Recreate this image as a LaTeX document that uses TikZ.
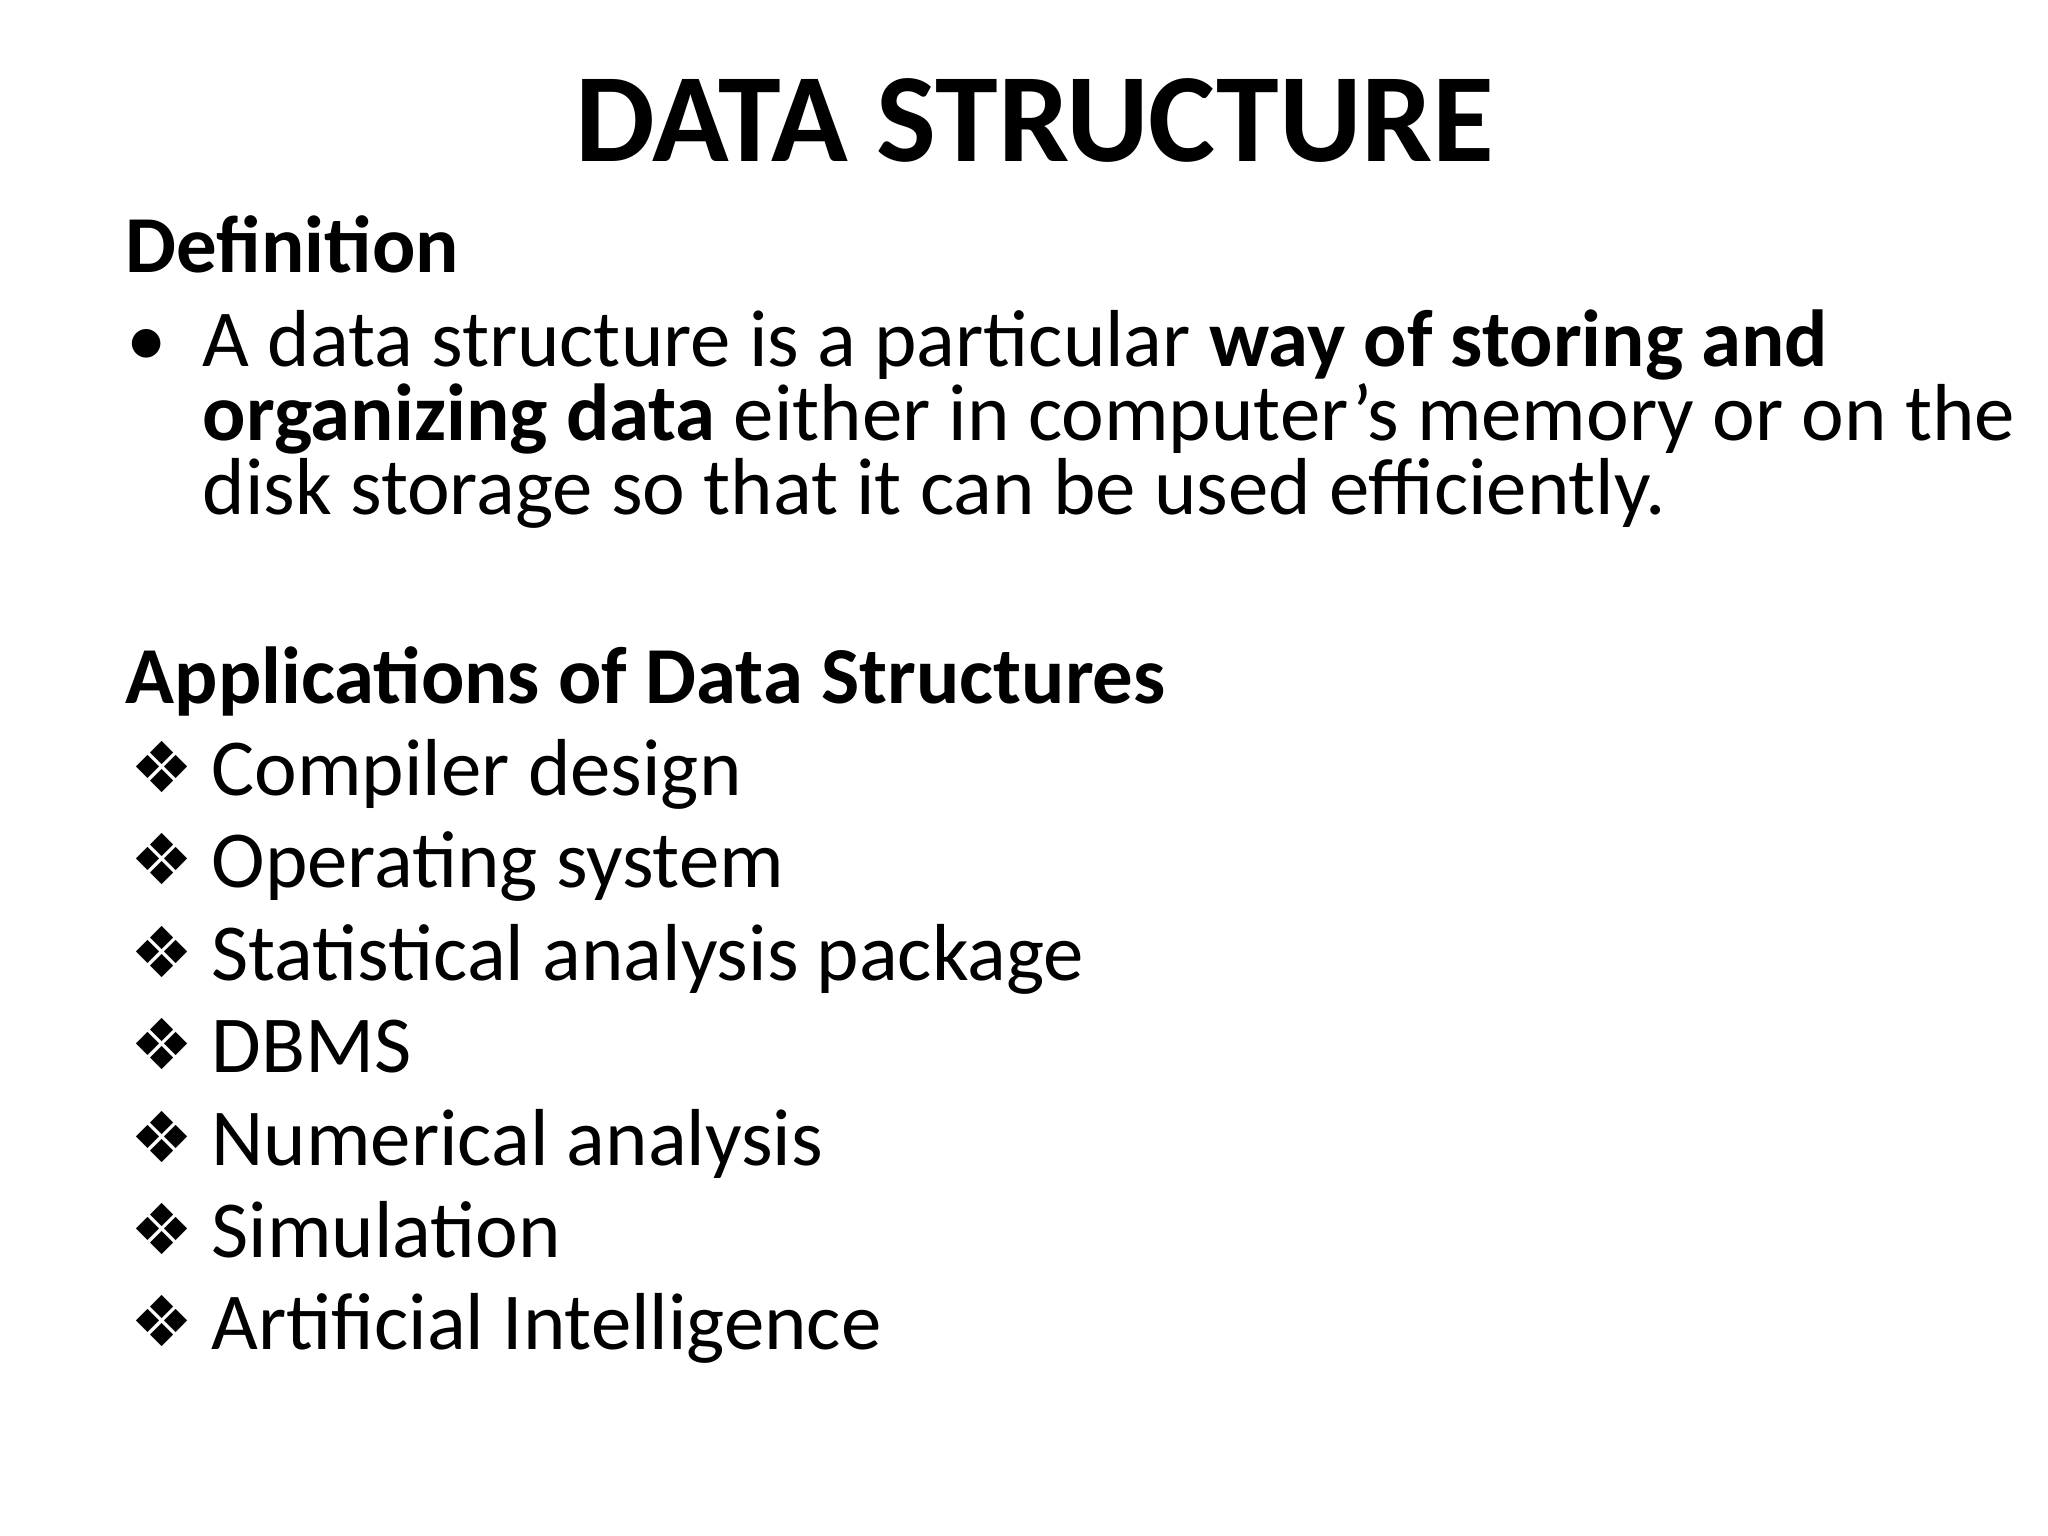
\documentclass[tikz,border=0pt]{standalone}
\usepackage{fontspec}
\setmainfont{Carlito}
\newfontfamily\symfont{DejaVu Sans}
\begin{document}
\begin{tikzpicture}[x=1cm,y=1cm,
  txt/.style={anchor=base west,inner sep=0pt,font=\fontsize{23}{26}\selectfont},
  dia/.style={anchor=base west,inner sep=0pt,font=\fontsize{20}{24}\selectfont\symfont}]
\useasboundingbox[fill=white] (0,0) rectangle (20.48,15.36);
\node[anchor=base,inner sep=0pt,font=\fontsize{36}{40}\selectfont\bfseries] (title) at (10.35,13.74) {DATA STRUCTURE};
\node[txt,font=\fontsize{23}{26}\selectfont\bfseries] (def) at (1.25,12.63) {Definition};
\node[txt] (bul) at (1.26,11.69) {•};
\node[txt] (l1) at (2.02,11.69) {A data structure is a particular \textbf{way of storing and}};
\node[txt] (l2) at (2.02,10.95) {\textbf{organizing data} either in computer’s memory or on the};
\node[txt] (l3) at (2.02,10.21) {disk storage so that it can be used efficiently.};
\node[txt,font=\fontsize{23}{26}\selectfont\bfseries] (app) at (1.25,8.32) {Applications of Data Structures};
\foreach \y/\t [count=\i] in {7.40/Compiler design,6.48/Operating system,5.55/Statistical analysis package,4.63/DBMS,3.70/Numerical analysis,2.78/Simulation,1.86/Artificial Intelligence}{
  \node[dia] (d\i) at (1.30,\y+0.03) {❖};
  \node[txt] (i\i) at (2.11,\y) {\t};
}
\end{tikzpicture}
\end{document}
